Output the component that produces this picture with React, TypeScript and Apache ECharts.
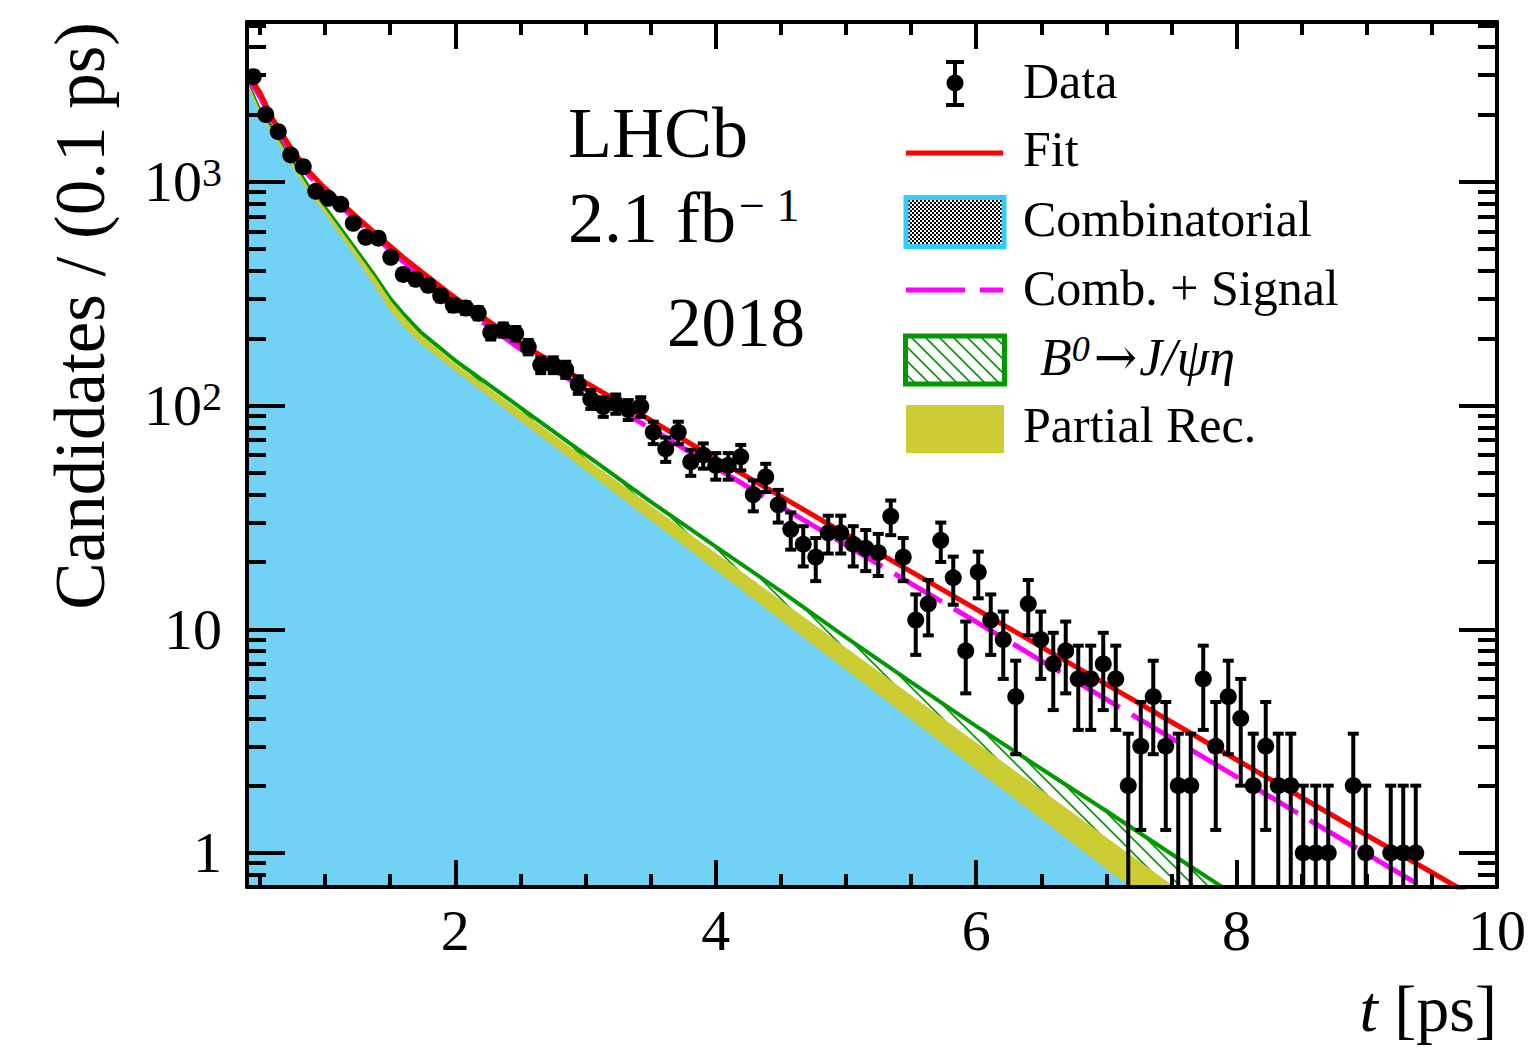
import React, { useEffect, useRef } from 'react';
import * as echarts from 'echarts';

const FONT = "'Liberation Serif', 'DejaVu Serif', serif";

// ---- axis ranges ----
const X_MIN = 0.4;
const X_MAX = 10;
const Y_MIN = 0.7046;
const Y_MAX = 5186;
const BIN_LO = 0.4;
const BIN_W = 0.096;

// ---- tick values ----
const X_MAJOR = [2, 4, 6, 8, 10];
const X_MINOR = [0.5, 1, 1.5, 2.5, 3, 3.5, 4.5, 5, 5.5, 6.5, 7, 7.5, 8.5, 9, 9.5];
const Y_MINOR = [
  0.8, 0.9, 2, 3, 4, 5, 6, 7, 8, 9, 20, 30, 40, 50, 60, 70, 80, 90,
  200, 300, 400, 500, 600, 700, 800, 900, 2000, 3000, 4000, 5000,
];

// ---- data: candidates per bin (100 bins from 0.4 to 10 ps) ----
const COUNTS = [
  2953, 2000, 1676, 1319, 1170, 908, 845, 794, 653, 565,
  560, 460, 386, 367, 345, 310, 281, 273, 259, 212,
  218, 210, 183, 152, 152, 145, 124, 107, 99, 102,
  96, 99, 76, 64, 76, 56, 60, 54, 54, 59,
  40, 48, 36, 28, 24, 21, 27, 27, 24, 23,
  22, 32, 21, 11, 13, 25, 17, 8, 18, 11,
  9, 5, 13, 9, 7, 8, 6, 6, 7, 6,
  2, 3, 5, 3, 2, 2, 6, 3, 5, 4,
  2, 3, 2, 2, 1, 1, 1, 0, 2, 1,
  0, 1, 1, 1, 0, 0, 0, 0, 0, 0,
];

// ---- fit curves sampled at these decay times ----
const CURVE_T = [
  0.4, 0.5, 0.6, 0.73, 0.86, 0.98, 1.11, 1.24, 1.37, 1.5, 1.6, 1.73, 2.0, 2.5,
  3.0, 3.5, 4.0, 4.5, 5.0, 5.5, 6.0, 6.5, 7.0, 7.5, 8.0, 8.5, 9.0, 9.5, 10.0,
];
const FIT_V = [
  3100, 2500, 1900, 1440, 1140, 960, 820, 700, 600, 516, 460, 401, 303, 190,
  127, 86, 58, 39.3, 26.6, 18.1, 12.3, 8.35, 5.67, 3.85, 2.61, 1.77, 1.2, 0.818, 0.555,
];
const COMB_SIG_V = [
  2980, 2400, 1825, 1382, 1094, 922, 787, 672, 576, 495, 440, 383, 288, 179,
  118, 79, 52.8, 35.4, 23.8, 16.0, 10.8, 7.23, 4.86, 3.26, 2.19, 1.47, 0.99, 0.666, 0.447,
];
// stacked: combinatorial + partial rec. + B0 -> J/psi eta
const B0_TOP_V = [
  2800, 2070, 1690, 1280, 975, 795, 627, 494, 389, 301, 257, 214, 159, 98,
  60.3, 37.2, 23.4, 14.8, 9.2, 5.8, 3.69, 2.38, 1.54, 0.99, 0.64, 0.41,
];
// stacked: combinatorial + partial rec.
const PART_TOP_V = [
  2767, 2032, 1655, 1253, 952, 775, 610, 480, 377, 291, 248, 205, 152, 93.5,
  57.4, 35.3, 21.7, 13.3, 8.17, 5.02, 3.08, 1.89, 1.16, 0.713, 0.438,
];
// combinatorial
const COMB_V = [
  2720, 2000, 1620, 1222, 923, 748, 583, 456, 350, 266, 227, 190, 143, 85.6,
  51.3, 30.7, 18.4, 11.0, 6.6, 3.95, 2.36, 1.42, 0.85, 0.51,
];

const LEGEND_LABELS = ['Data', 'Fit', 'Combinatorial', 'Comb. + Signal', '', 'Partial Rec.'];

const COLORS = {
  fit: '#ff0000',
  combSig: '#ff00ff',
  comb: '#33ccff',
  combFill: '#72d2f6',
  b0: '#009900',
  part: '#cccc33',
};

function pts(vals: number[]) {
  return vals.map((v, i) => [CURVE_T[i], v]);
}

function makePattern(size: number, draw: (ctx: CanvasRenderingContext2D, s: number) => void) {
  const c = document.createElement('canvas');
  c.width = size;
  c.height = size;
  const ctx = c.getContext('2d')!;
  draw(ctx, size);
  return { image: c.toDataURL(), repeat: 'repeat', imageWidth: size, imageHeight: size } as any;
}

function buildOption() {
  const checker = makePattern(4, (ctx) => {
    ctx.fillStyle = '#ffffff';
    ctx.fillRect(0, 0, 4, 4);
    ctx.fillStyle = '#000000';
    ctx.fillRect(0, 0, 2, 2);
    ctx.fillRect(2, 2, 2, 2);
  });
  const hatch = makePattern(14, (ctx, s) => {
    ctx.strokeStyle = COLORS.b0;
    ctx.lineWidth = 1.6;
    ctx.beginPath();
    ctx.moveTo(-2, -2); ctx.lineTo(s + 2, s + 2);
    ctx.moveTo(-2, s - 2); ctx.lineTo(2, s + 2);
    ctx.moveTo(s - 2, -2); ctx.lineTo(s + 2, 2);
    ctx.stroke();
  });

  const dataPts = COUNTS.map((n, i) => [BIN_LO + BIN_W * (i + 0.5), n]).filter((p) => p[1] > 0);

  const tickStyle = { color: '#000', width: 4 };
  const noLine = { show: false };
  const xBase: any = {
    type: 'value', min: X_MIN, max: X_MAX, splitLine: { show: false },
    axisLabel: { show: false }, z: 50,
  };
  const yMinorLog = Y_MINOR.map((v) => Math.log10(v));
  const yLogBase: any = {
    type: 'value', min: Math.log10(Y_MIN), max: Math.log10(Y_MAX), splitLine: { show: false },
    axisLabel: { show: false }, axisLine: noLine, z: 50,
    axisTick: { show: true, inside: true, length: 19, lineStyle: tickStyle, customValues: yMinorLog },
  };

  const labelFormatter = (v: number) => {
    const l = Math.log10(v);
    const e = Math.round(l);
    if (Math.abs(l - e) > 1e-6) return '';
    if (e <= 1) return String(Math.round(v));
    return '10{s|' + e + '}';
  };

  const textBase = { fontFamily: FONT, fill: '#000', align: 'left', verticalAlign: 'middle' };

  const legendRowsY = [81, 149, 219, 288, 357, 425];

  const graphic: any[] = [
    // y title
    {
      type: 'text', x: 80, y: 22, rotation: Math.PI / 2,
      style: { ...textBase, text: 'Candidates / (0.1 ps)', fontSize: 71, align: 'right' },
    },
    // x title
    {
      type: 'text', x: 1497, y: 1008,
      style: {
        ...textBase, text: '{i|t} [ps]', fontSize: 66, align: 'right',
        rich: { i: { fontStyle: 'italic', fontSize: 66, fontFamily: FONT } },
      },
    },
    { type: 'text', x: 568, y: 133, style: { ...textBase, text: 'LHCb', fontSize: 72 } },
    {
      type: 'text', x: 568, y: 218,
      style: {
        ...textBase, text: '2.1 fb{s|\u2212 1}', fontSize: 72,
        rich: { s: { fontSize: 46, fontFamily: FONT, verticalAlign: 'top', padding: [0, 0, 0, 3] } },
      },
    },
    { type: 'text', x: 667, y: 323, style: { ...textBase, text: '2018', fontSize: 69 } },
    // legend: data
    { type: 'line', shape: { x1: 955, y1: 62, x2: 955, y2: 105 }, style: { stroke: '#000', lineWidth: 4 } },
    { type: 'line', shape: { x1: 946, y1: 62, x2: 964, y2: 62 }, style: { stroke: '#000', lineWidth: 4 } },
    { type: 'line', shape: { x1: 946, y1: 105, x2: 964, y2: 105 }, style: { stroke: '#000', lineWidth: 4 } },
    { type: 'circle', shape: { cx: 955, cy: 83, r: 8.5 }, style: { fill: '#000' } },
    // legend: fit
    { type: 'line', shape: { x1: 906, y1: 153, x2: 1003, y2: 153 }, style: { stroke: COLORS.fit, lineWidth: 5 } },
    // legend: combinatorial
    {
      type: 'rect', shape: { x: 906, y: 197.5, width: 98, height: 49 },
      style: { fill: checker, stroke: COLORS.comb, lineWidth: 5 },
    },
    // legend: comb + signal
    {
      type: 'line', shape: { x1: 906, y1: 290, x2: 1003, y2: 290 },
      style: { stroke: COLORS.combSig, lineWidth: 5, lineDash: [59, 15] },
    },
    // legend: B0
    {
      type: 'rect', shape: { x: 905.5, y: 336, width: 99, height: 48 },
      style: { fill: hatch, stroke: COLORS.b0, lineWidth: 5 },
    },
    // legend: partial rec
    { type: 'rect', shape: { x: 906, y: 405, width: 98, height: 48 }, style: { fill: COLORS.part } },
    {
      type: 'text', x: 1040, y: legendRowsY[4],
      style: {
        ...textBase, text: '{i|B}{sup|0}{ar|\u2192}{i|J/\u03c8\u03b7}', fontSize: 52,
        rich: {
          i: { fontStyle: 'italic', fontSize: 52, fontFamily: FONT },
          sup: { fontStyle: 'italic', fontSize: 36, fontFamily: FONT, verticalAlign: 'top' },
          ar: { fontSize: 52, fontFamily: "'DejaVu Serif', serif", padding: [0, 2, 0, 4] },
        },
      },
    },
  ];
  LEGEND_LABELS.forEach((lab, i) => {
    if (!lab) return;
    graphic.push({ type: 'text', x: 1023, y: legendRowsY[i], style: { ...textBase, text: lab, fontSize: 50 } });
  });

  return {
    animation: false,
    backgroundColor: '#ffffff',
    grid: { left: 247, top: 22, width: 1250, height: 865, containLabel: false, outerBoundsMode: 'none' },
    xAxis: [
      {
        ...xBase, position: 'bottom',
        axisLine: { show: true, onZero: false, lineStyle: tickStyle },
        axisTick: { show: true, inside: true, length: 27, lineStyle: tickStyle, customValues: X_MAJOR },
        axisLabel: {
          show: true, customValues: X_MAJOR, fontFamily: FONT, fontSize: 58, color: '#000', margin: 14,
        },
      },
      {
        ...xBase, position: 'bottom', axisLine: { show: false, onZero: false },
        axisTick: { show: true, inside: true, length: 13, lineStyle: tickStyle, customValues: X_MINOR },
      },
      {
        ...xBase, position: 'top',
        axisLine: { show: true, onZero: false, lineStyle: tickStyle },
        axisTick: { show: true, inside: true, length: 27, lineStyle: tickStyle, customValues: X_MAJOR },
      },
      {
        ...xBase, position: 'top', axisLine: { show: false, onZero: false },
        axisTick: { show: true, inside: true, length: 13, lineStyle: tickStyle, customValues: X_MINOR },
      },
    ],
    yAxis: [
      {
        type: 'log', logBase: 10, min: Y_MIN, max: Y_MAX, position: 'left', z: 50,
        splitLine: { show: false },
        axisLine: { show: true, onZero: false, lineStyle: tickStyle },
        axisTick: { show: true, inside: true, length: 38, lineStyle: tickStyle },
        axisLabel: {
          show: true, fontFamily: FONT, fontSize: 58, color: '#000', margin: 25,
          showMinLabel: false, showMaxLabel: false, formatter: labelFormatter,
          rich: { s: { fontSize: 40, fontFamily: FONT, color: '#000', verticalAlign: 'top' } },
        },
      },
      { ...yLogBase, position: 'left' },
      {
        type: 'log', logBase: 10, min: Y_MIN, max: Y_MAX, position: 'right', z: 50,
        splitLine: { show: false },
        axisLine: { show: true, onZero: false, lineStyle: tickStyle },
        axisTick: { show: true, inside: true, length: 38, lineStyle: tickStyle },
        axisLabel: { show: false },
      },
      { ...yLogBase, position: 'right' },
    ],
    series: [
      {
        name: 'B0 -> J/psi eta', type: 'line', data: pts(B0_TOP_V), showSymbol: false, symbol: 'none',
        lineStyle: { color: COLORS.b0, width: 4 },
        areaStyle: { color: hatch, origin: 'start', opacity: 1 }, z: 1, silent: true,
      },
      {
        name: 'Partial Rec.', type: 'line', data: pts(PART_TOP_V), showSymbol: false, symbol: 'none',
        lineStyle: { color: COLORS.part, width: 2 },
        areaStyle: { color: COLORS.part, origin: 'start', opacity: 1 }, z: 2, silent: true,
      },
      {
        name: 'Combinatorial', type: 'line', data: pts(COMB_V), showSymbol: false, symbol: 'none',
        lineStyle: { width: 0, opacity: 0 },
        areaStyle: { color: COLORS.combFill, origin: 'start', opacity: 1 }, z: 3, silent: true,
      },
      {
        name: 'Comb. + Signal', type: 'line', data: pts(COMB_SIG_V), showSymbol: false, symbol: 'none',
        lineStyle: { color: COLORS.combSig, width: 5, type: [55, 14] }, z: 4, silent: true,
      },
      {
        name: 'Fit', type: 'line', data: pts(FIT_V), showSymbol: false, symbol: 'none',
        lineStyle: { color: COLORS.fit, width: 5 }, z: 5, silent: true,
      },
      {
        name: 'Data', type: 'custom', data: dataPts, z: 10, clip: true, silent: true,
        encode: { x: 0, y: 1 },
        renderItem: (params: any, api: any) => {
          const t = api.value(0) as number;
          const n = api.value(1) as number;
          const e = Math.sqrt(n);
          const cs = params.coordSys as any;
          const bottom = cs.y + cs.height;
          const c = api.coord([t, n]);
          const top = api.coord([t, n + e]);
          const lowOk = n - e > Y_MIN;
          const lowY = lowOk ? api.coord([t, n - e])[1] : bottom;
          const st = { stroke: '#000', lineWidth: 4 };
          const children: any[] = [
            { type: 'line', shape: { x1: c[0], y1: top[1], x2: c[0], y2: lowY }, style: st },
            { type: 'line', shape: { x1: c[0] - 5.5, y1: top[1], x2: c[0] + 5.5, y2: top[1] }, style: st },
          ];
          if (lowOk) {
            children.push({ type: 'line', shape: { x1: c[0] - 5.5, y1: lowY, x2: c[0] + 5.5, y2: lowY }, style: st });
          }
          children.push({ type: 'circle', shape: { cx: c[0], cy: c[1], r: 8.5 }, style: { fill: '#000' } });
          return { type: 'group', children };
        },
      },
    ],
    graphic,
  };
}

export default function App() {
  const ref = useRef<HTMLDivElement>(null);
  useEffect(() => {
    const chart = echarts.init(ref.current!, null, { renderer: 'svg' });
    chart.setOption(buildOption() as any);
    return () => chart.dispose();
  }, []);
  return (
    <div
      ref={ref}
      style={{ position: 'fixed', left: 0, top: 0, width: 1537, height: 1050, background: '#fff' }}
    />
  );
}
